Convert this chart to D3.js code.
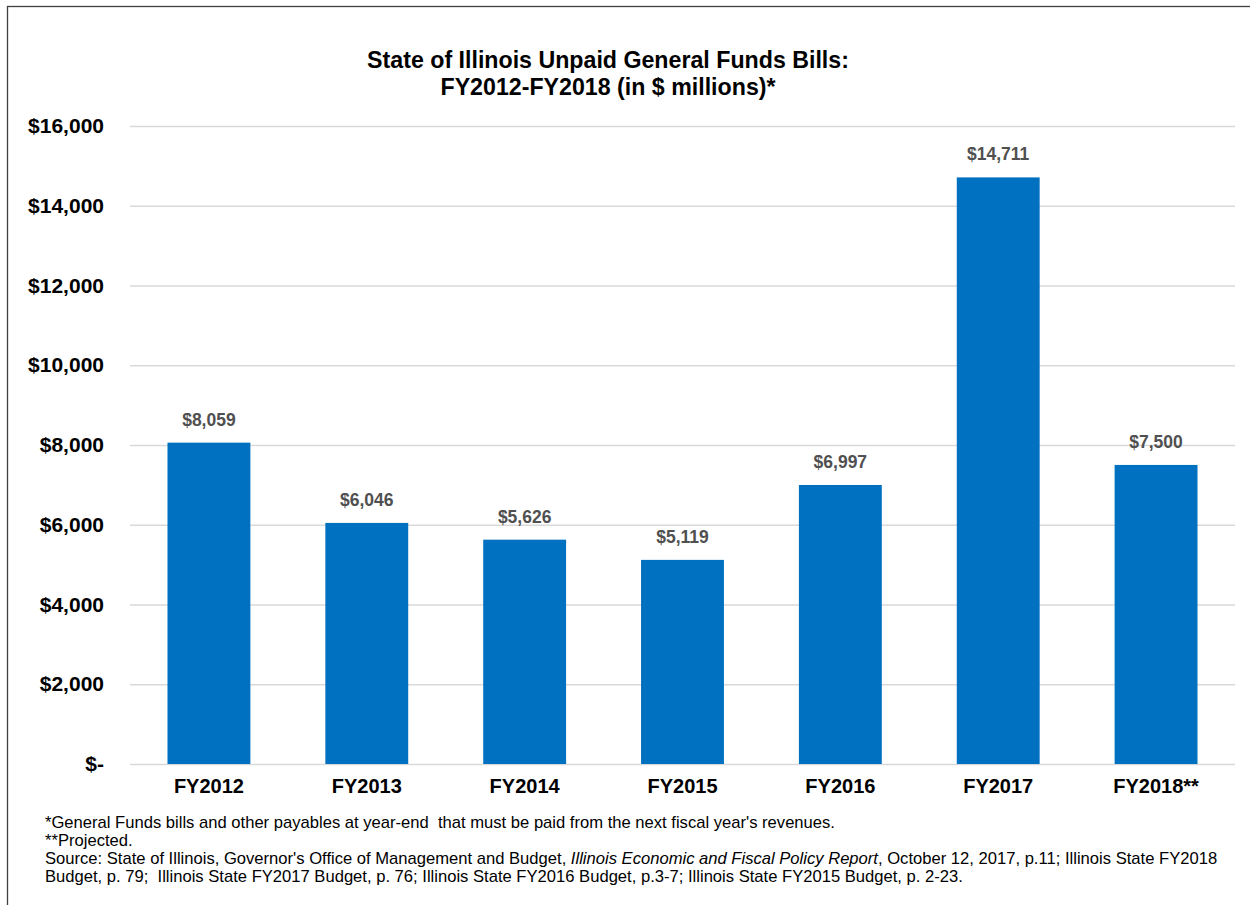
<!DOCTYPE html>
<html>
<head>
<meta charset="utf-8">
<script src="https://cdn.jsdelivr.net/npm/d3@7"></script>
<style>
  body { margin: 0; background: #fff; }
  text { font-family: "Liberation Sans", Arial, sans-serif; }
</style>
</head>
<body>
<div id="chart"></div>
<script>
// data
var years = ["FY2012", "FY2013", "FY2014", "FY2015", "FY2016", "FY2017", "FY2018**"];
var unpaidBills = [8059, 6046, 5626, 5119, 6997, 14711, 7500];
var yTicks = [0, 2000, 4000, 6000, 8000, 10000, 12000, 14000, 16000];
var titleLines = ["State of Illinois Unpaid General Funds Bills:", "FY2012-FY2018 (in $ millions)*"];

var svgWidth = 1250, svgHeight = 905;
var margin = {top: 126, right: 15, bottom: 141, left: 130};
var width = svgWidth - margin.left - margin.right;
var height = svgHeight - margin.top - margin.bottom;

var svg = d3.select("#chart").append("svg")
    .attr("width", svgWidth).attr("height", svgHeight);

// frame (left + top edges visible)
svg.append("rect")
    .attr("x", 7.5).attr("y", 6.5)
    .attr("width", 1260).attr("height", 920)
    .attr("fill", "none").attr("stroke", "#404040").attr("stroke-width", 1.3);

var g = svg.append("g")
    .attr("transform", "translate(" + margin.left + " " + margin.top + ")");

var x = d3.scaleBand()
    .domain(years)
    .range([0, width])
    .paddingInner(0.475).paddingOuter(0.2375);

var y = d3.scaleLinear()
    .domain([0, 16000])
    .range([height, 0]);

var fmt = d3.format(",");
function money(v) { return v === 0 ? "$-" : "$" + fmt(v); }

// gridlines
g.append("g").selectAll("line")
    .data(yTicks).enter().append("line")
    .attr("x1", 0).attr("x2", width)
    .attr("y1", function(d) { return y(d) + 0.5; })
    .attr("y2", function(d) { return y(d) + 0.5; })
    .attr("stroke", "#d9d9d9").attr("stroke-width", 1.3);

// y axis
var yAxis = g.append("g")
    .attr("class", "y axis")
    .call(d3.axisLeft(y).tickValues(yTicks).tickFormat(money).tickSize(0).tickPadding(26));
yAxis.select(".domain").remove();
yAxis.selectAll("text")
    .attr("font-size", "21px").attr("font-weight", "bold").attr("fill", "#000")
    .attr("font-family", "Liberation Sans, Arial, sans-serif");

// x axis
var xAxis = g.append("g")
    .attr("class", "x axis")
    .attr("transform", "translate(0 " + height + ")")
    .call(d3.axisBottom(x).tickSize(0).tickPadding(15));
xAxis.select(".domain").remove();
xAxis.selectAll("text")
    .attr("font-size", "20px").attr("font-weight", "bold").attr("fill", "#000")
    .attr("font-family", "Liberation Sans, Arial, sans-serif");

// bars
g.selectAll("rect.bar")
    .data(unpaidBills).enter().append("rect")
    .attr("class", "bar")
    .attr("x", function(d, i) { return x(years[i]); })
    .attr("y", function(d) { return y(d); })
    .attr("width", x.bandwidth())
    .attr("height", function(d) { return height - y(d); })
    .attr("fill", "#0070c0");

// value labels
g.selectAll("text.val")
    .data(unpaidBills).enter().append("text")
    .attr("class", "val")
    .attr("x", function(d, i) { return x(years[i]) + x.bandwidth() / 2; })
    .attr("y", function(d) { return y(d) - 17; })
    .attr("text-anchor", "middle")
    .attr("font-size", "17.5px").attr("font-weight", "bold")
    .attr("fill", "#505050")
    .text(function(d) { return money(d); });

// title
svg.append("text")
    .attr("x", 608).attr("y", 68)
    .attr("text-anchor", "middle")
    .attr("font-size", "23.2px").attr("font-weight", "bold")
    .selectAll("tspan").data(titleLines).enter().append("tspan")
    .attr("x", 608).attr("dy", function(d, i) { return i ? 27 : 0; })
    .text(function(d) { return d; });

// footnotes
var notes = svg.append("g").attr("font-size", "16.6px").attr("fill", "#000");
notes.append("text").attr("x", 45).attr("y", 828)
    .text("*General Funds bills and other payables at year-end  that must be paid from the next fiscal year's revenues.")
    .style("white-space", "pre");
notes.append("text").attr("x", 45).attr("y", 846).text("**Projected.");
var src = notes.append("text").attr("x", 45).attr("y", 864).style("white-space", "pre");
src.append("tspan").text("Source: State of Illinois, Governor's Office of Management and Budget, ");
src.append("tspan").attr("font-style", "italic").text("Illinois Economic and Fiscal Policy Report");
src.append("tspan").text(", October 12, 2017, p.11; Illinois State FY2018");
notes.append("text").attr("x", 45).attr("y", 882).style("white-space", "pre")
    .text("Budget, p. 79;  Illinois State FY2017 Budget, p. 76; Illinois State FY2016 Budget, p.3-7; Illinois State FY2015 Budget, p. 2-23.");
</script>
</body>
</html>
